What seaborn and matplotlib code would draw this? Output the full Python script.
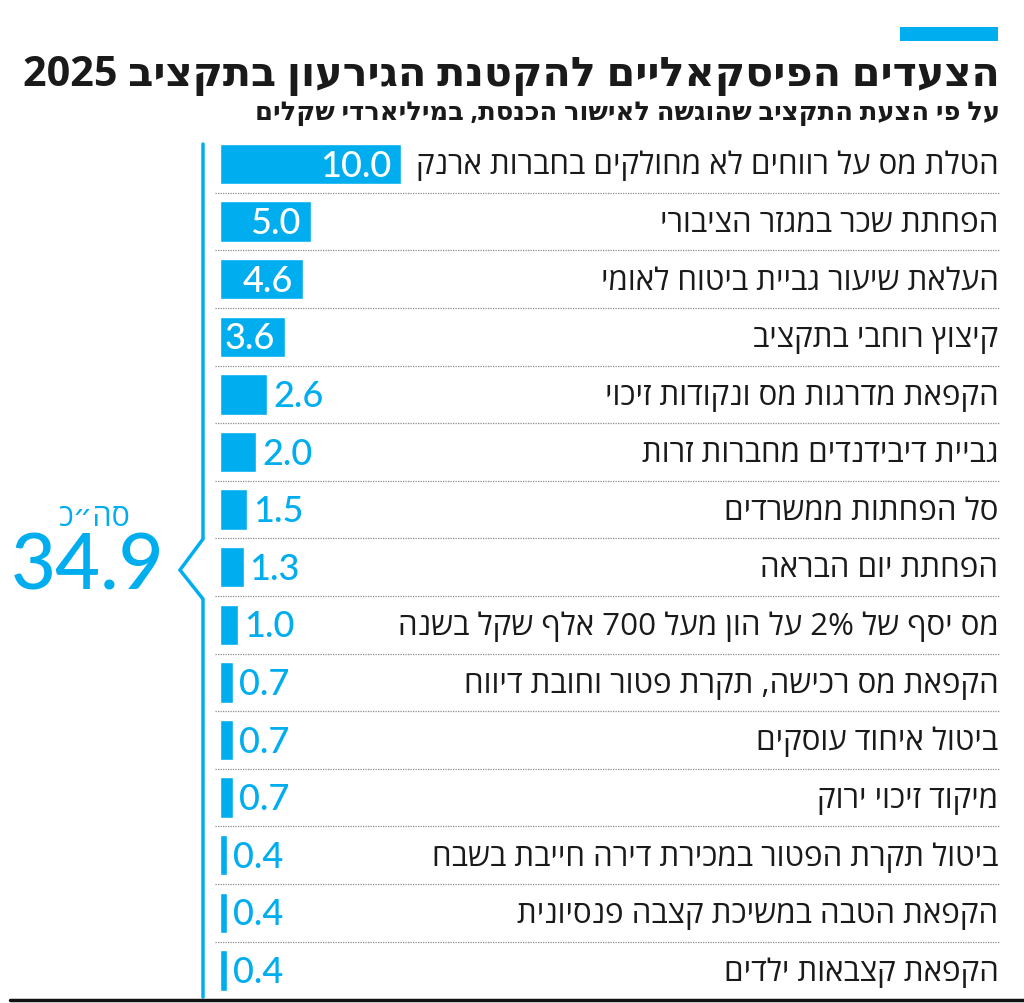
import re
import matplotlib
matplotlib.use("Agg")
import matplotlib.pyplot as plt
from matplotlib.lines import Line2D
from matplotlib.patches import Rectangle
import matplotlib.transforms as mtransforms
import seaborn as sns
import pandas as pd

# ---------------- data ----------------
title = "הצעדים הפיסקאליים להקטנת הגירעון בתקציב 2025"
subtitle = "על פי הצעת התקציב שהוגשה לאישור הכנסת, במיליארדי שקלים"
categories = [
    "הטלת מס על רווחים לא מחולקים בחברות ארנק",
    "הפחתת שכר במגזר הציבורי",
    "העלאת שיעור גביית ביטוח לאומי",
    "קיצוץ רוחבי בתקציב",
    "הקפאת מדרגות מס ונקודות זיכוי",
    "גביית דיבידנדים מחברות זרות",
    "סל הפחתות ממשרדים",
    "הפחתת יום הבראה",
    "מס יסף של 2% על הון מעל 700 אלף שקל בשנה",
    "הקפאת מס רכישה, תקרת פטור וחובת דיווח",
    "ביטול איחוד עוסקים",
    "מיקוד זיכוי ירוק",
    "ביטול תקרת הפטור במכירת דירה חייבת בשבח",
    "הקפאת הטבה במשיכת קצבה פנסיונית",
    "הקפאת קצבאות ילדים",
]
values = [10.0, 5.0, 4.6, 3.6, 2.6, 2.0, 1.5, 1.3, 1.0, 0.7, 0.7, 0.7, 0.4, 0.4, 0.4]
total_label = "סה״כ"
total_value = "34.9"

BLUE = "#00AEEF"
HEB = ["Open Sans", "DejaVu Sans"]
NUM = ["Lato", "DejaVu Sans"]


def rtl(s):
    """Simple visual reordering for RTL text (matplotlib has no bidi)."""
    r = s[::-1]
    return re.sub(r"[0-9A-Za-z%.]+", lambda m: m.group(0)[::-1], r)


W, H = 1024, 1004
sns.set_theme(style="white")
fig = plt.figure(figsize=(W / 100, H / 100), dpi=100)

PX_PER_UNIT = 18.1
ROW = 57.6
Y0 = 165
ax_left_px, ax_right_px = 210, 1000
ax_top_px, ax_bot_px = 140, 998
ax = fig.add_axes([ax_left_px / W, 1 - ax_bot_px / H,
                   (ax_right_px - ax_left_px) / W, (ax_bot_px - ax_top_px) / H])

df = pd.DataFrame({"cat": categories, "val": values})
sns.barplot(data=df, x="val", y="cat", orient="h", color=BLUE, width=0.7,
            saturation=1, ax=ax)

x0 = -(220 - ax_left_px) / PX_PER_UNIT
ax.set_xlim(x0, x0 + (ax_right_px - ax_left_px) / PX_PER_UNIT)
ax.set_ylim((ax_bot_px - Y0) / ROW, -(Y0 - ax_top_px) / ROW)
ax.set_axis_off()

# separators
for i in range(len(categories) - 1):
    ax.axhline(i + 0.5, xmin=5 / (ax_right_px - ax_left_px), xmax=1,
               color="#8a8a8a", lw=0.9, ls=(0, (1, 1)))

# category labels and values
trans = mtransforms.blended_transform_factory(ax.transAxes, ax.transData)
for i, (c, v) in enumerate(zip(categories, values)):
    ax.text(0.998, i + 0.02, rtl(c), transform=trans, ha="right", va="center",
            fontsize=22.5, family=HEB, color="#1a1a1a")
    if v >= 3:
        ax.text(v - 10 / PX_PER_UNIT, i + 0.02, f"{v:.1f}", ha="right", va="center",
                fontsize=26, family=NUM, color="white", fontweight="medium")
    else:
        ax.text(v + 6 / PX_PER_UNIT, i + 0.02, f"{v:.1f}", ha="left", va="center",
                fontsize=26, family=NUM, color=BLUE, fontweight="medium")

# bracket line with chevron
pts = [(203, 145), (203, 540), (180, 571), (203, 600), (203, 998)]
fig.add_artist(Line2D([p[0] / W for p in pts], [1 - p[1] / H for p in pts],
                      color=BLUE, lw=2.5, solid_joinstyle="miter"))

# total
fig.text(95 / W, 1 - 518 / H, rtl(total_label), ha="center", va="center",
         fontsize=22, family=HEB, color=BLUE)
fig.text(88 / W, 1 - 568 / H, total_value, ha="center", va="center",
         fontsize=56, family=NUM, color=BLUE, fontweight="medium")

# top accent bar
fig.add_artist(Rectangle((900 / W, 1 - 42 / H), 98 / W, 14 / H,
                         transform=fig.transFigure, color=BLUE, lw=0))
# bottom rule
fig.add_artist(Line2D([10 / W, 1], [1 - 1001 / H] * 2, color="#111111", lw=2.5))

# titles
fig.text(1000 / W, 1 - 75 / H, rtl(title), ha="right", va="center",
         fontsize=29.8, family=HEB, fontweight="bold", color="#1a1a1a")
fig.text(1000 / W, 1 - 112 / H, rtl(subtitle), ha="right", va="center",
         fontsize=18.5, family=HEB, fontweight="bold", color="#1a1a1a")

fig.savefig("out.png", dpi=100)
